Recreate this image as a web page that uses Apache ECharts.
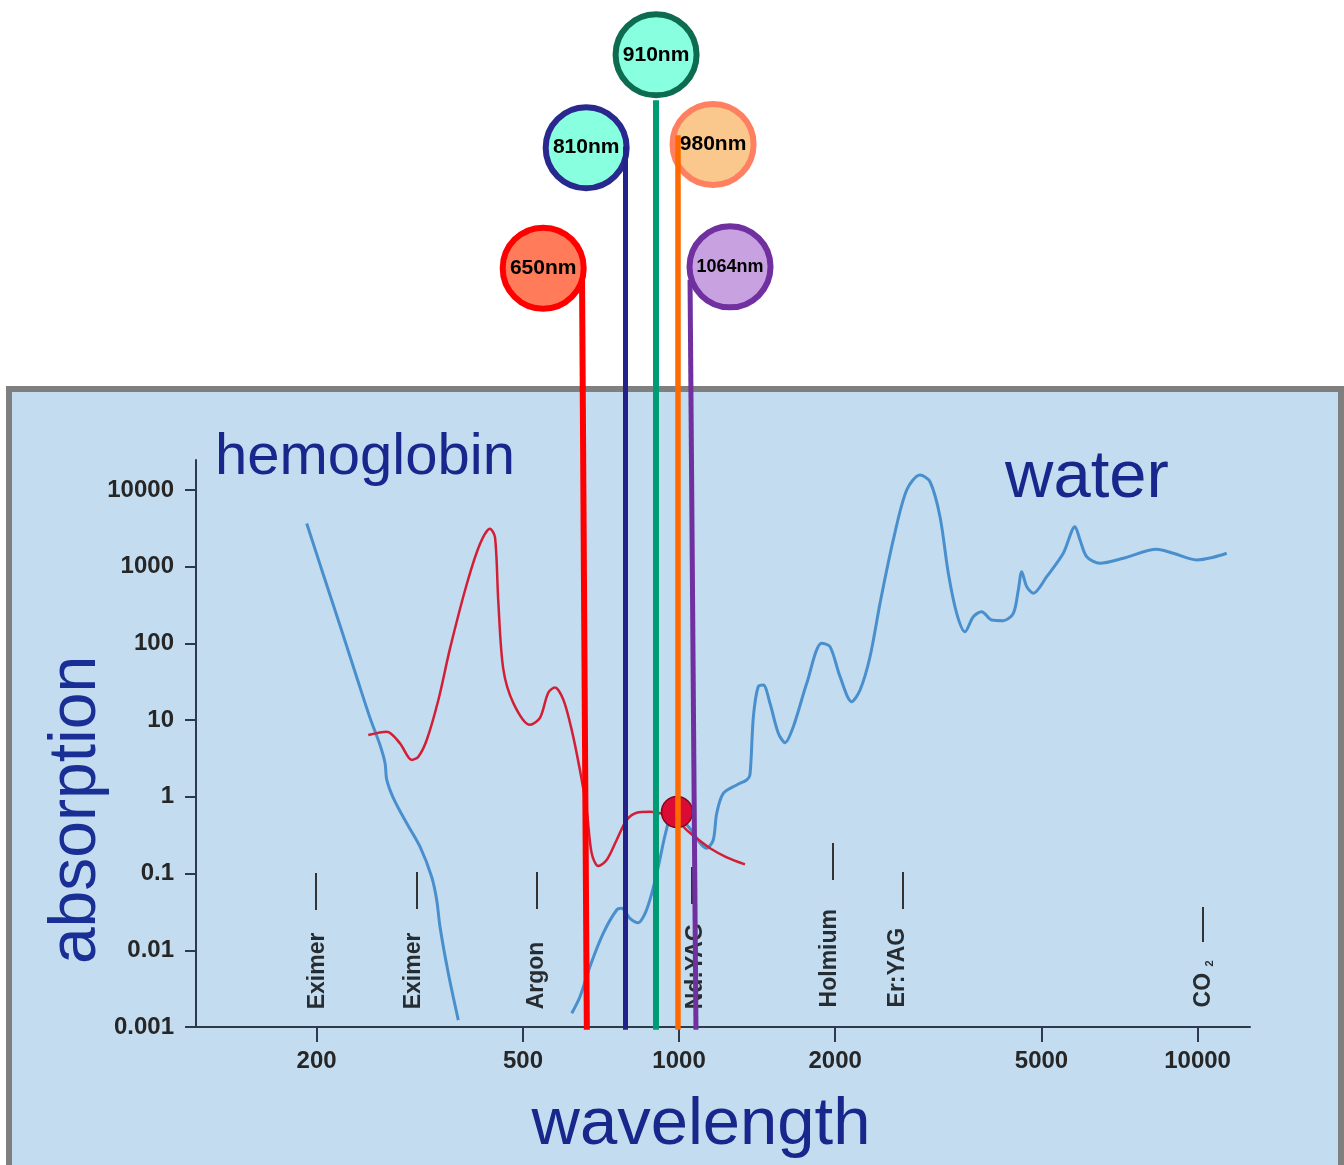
<!DOCTYPE html>
<html>
<head>
<meta charset="utf-8">
<script src="https://cdn.jsdelivr.net/npm/echarts@6/dist/echarts.min.js"></script>
<style>
html,body{margin:0;padding:0;background:#ffffff;}
#chart{width:1344px;height:1165px;}
</style>
</head>
<body>
<div id="chart"></div>
<script>
// ---- axis ticks ----
const xTickValues = [200, 500, 1000, 2000, 5000, 10000];
const yTickValues = [0.001, 0.01, 0.1, 1, 10, 100, 1000, 10000];
const yTickLabels = ['0.001', '0.01', '0.1', '1', '10', '100', '1000', '10000'];

// ---- water absorption (UV part) ----
const waterUvNm  = [191.4, 206, 221.9, 238.9, 253.5, 265, 271, 273.1, 281.2, 298.4, 316.5, 333.4, 340.9, 345.9, 358.9, 375.2];
const waterUvAbs = [3660, 792, 171, 36.5, 10.7, 4.74, 2.76, 1.66, 0.966, 0.452, 0.224, 0.0904, 0.0453, 0.0203, 0.00501, 0.00123];

// ---- water absorption (visible / IR part) ----
const waterIrNm  = [621, 644, 673, 714, 758, 775, 804, 834, 860, 886, 912, 932, 947, 969, 1040, 1131, 1164, 1182, 1217, 1292, 1350, 1370, 1391, 1421, 1454, 1497, 1554, 1601, 1661, 1763, 1884, 1955, 2044, 2152, 2234, 2335, 2441, 2589, 2748, 2915, 3048, 3186, 3306, 3431, 3560, 3694, 3834, 4009, 4220, 4412, 4511, 4580, 4682, 4822, 5117, 5508, 5801, 5933, 6112, 6482, 7192, 8341, 8979, 9961, 10722, 11381];
const waterIrAbs = [0.00151, 0.00248, 0.00611, 0.0166, 0.0335, 0.0352, 0.0261, 0.0229, 0.0303, 0.0553, 0.123, 0.248, 0.389, 0.635, 0.417, 0.214, 0.274, 0.611, 1.11, 1.43, 1.66, 1.93, 11.1, 27.3, 28.7, 16.7, 6.75, 5.08, 8.22, 30.2, 100.5, 90.8, 36.9, 17.4, 24.7, 67.1, 333, 2234, 10000, 15700, 12800, 4490, 822, 247, 142, 223, 259, 202, 198, 247, 498, 861, 550, 451, 741, 1496, 3327, 2234, 1352, 1109, 1288, 1687, 1496, 1225, 1327, 1496];

// ---- hemoglobin absorption ----
const hbNm  = [251.6, 273.1, 289.6, 305.1, 314.2, 326.1, 343.4, 361.6, 389.4, 413.1, 431.9, 441.6, 448.1, 458.1, 478.9, 515.8, 539.2, 559.4, 576.3, 598, 620.8, 644.1, 663.6, 678.4, 698.5, 725, 758, 792.5, 828.5, 878.9, 918.8, 982, 1026.6, 1081.5, 1147.5, 1235.6, 1340];
const hbAbs = [6.4, 7.08, 4.99, 3.03, 3.34, 5.51, 18.3, 85.5, 586, 1977, 3133, 2427, 353, 46.5, 16.8, 8.69, 10.7, 22.8, 26.6, 18.6, 7.47, 2.21, 0.675, 0.184, 0.1256, 0.15, 0.274, 0.499, 0.622, 0.641, 0.611, 0.564, 0.389, 0.288, 0.214, 0.163, 0.132];

// ---- crossing point marker ----
const dotNm  = [991];
const dotAbs = [0.635];

// ---- medical laser types (short marks + labels) ----
const laserNames       = ['Eximer', 'Eximer', 'Argon', 'Nd:YAG', 'Holmium', 'Er:YAG', 'CO2'];
const laserNm          = [199.4, 311.6, 532, 1059, 1981, 2704, 10245];
const laserLabelNm     = [201.2, 308.2, 532, 1078, 1955, 2644, 10290];
const laserMarkTopAbs  = [0.102, 0.105, 0.105, 0.122, 0.251, 0.105, 0.0367];
const laserMarkBotAbs  = [0.0335, 0.0345, 0.0345, 0.0401, 0.0824, 0.0345, 0.0128];
const laserLabelAbs    = [0.0017, 0.0017, 0.0017, 0.0017, 0.0018, 0.0018, 0.0018];

// ---- highlighted diode wavelengths ----
const diodeNames       = ['650nm', '810nm', '910nm', '980nm', '1064nm'];
const diodeTopNm       = [650, 789, 903, 995, 1050];
const diodeBottomNm    = [664, 789, 903, 995, 1078];
const diodeTopAbs      = [5.5e6, 3.0e8, 1.2e9, 4.2e8, 5.5e6];
const diodeBottomAbs   = [0.00092, 0.00092, 0.00092, 0.00092, 0.00092];
const diodeBubbleNm    = [547, 662, 903, 1163, 1254];
const diodeBubbleAbs   = [7.8e6, 2.9e8, 4.7e9, 3.2e8, 8.1e6];

// ---- styles ----
const diodeLineColors  = ['#ff0000', '#22228a', '#009b74', '#ff6a00', '#7030a0'];
const diodeLineWidths  = [6, 5, 6, 5.5, 5];
const diodeFill        = ['#ff7b5a', '#88ffdf', '#88ffdf', '#fac88c', '#c8a2e0'];
const diodeBorder      = ['#ff0000', '#28288e', '#0d6b50', '#ff8060', '#7030a0'];
const diodeFontSize    = [21, 21, 21, 21, 18];

const lg = Math.log10;
const FONT = '"Liberation Sans", Arial, Helvetica, sans-serif';
const NAVY = '#17278c';
const AXIS = '#2c3a4c';

const pairs = (xs, ys) => xs.map((x, i) => [lg(x), lg(ys[i])]);

const chart = echarts.init(document.getElementById('chart'), null, {renderer: 'canvas'});

const option = {
  animation: false,
  backgroundColor: '#ffffff',
  textStyle: {fontFamily: FONT},
  graphic: {
    elements: [
      {type: 'rect', z: -100, shape: {x: 9, y: 389, width: 1332, height: 800},
       style: {fill: '#c3dcef', stroke: '#7f7f7f', lineWidth: 6}},
      {type: 'text', x: 215, y: 458, z: 10,
       style: {text: 'hemoglobin', fontSize: 58, fontFamily: FONT, fill: NAVY, align: 'left', verticalAlign: 'middle'}},
      {type: 'text', x: 1005, y: 479, z: 10,
       style: {text: 'water', fontSize: 67, fontFamily: FONT, fill: NAVY, align: 'left', verticalAlign: 'middle'}},
      {type: 'text', x: 77, y: 810, rotation: Math.PI / 2, z: 10,
       style: {text: 'absorption', fontSize: 66, fontFamily: FONT, fill: '#1a2f96', align: 'center', verticalAlign: 'middle'}},
      {type: 'text', x: 701, y: 1126, z: 10,
       style: {text: 'wavelength', fontSize: 67, fontFamily: FONT, fill: NAVY, align: 'center', verticalAlign: 'middle'}}
    ]
  },
  grid: {left: 196, right: 94, top: 460, bottom: 138, containLabel: false},
  xAxis: {
    type: 'value',
    min: 2.0684, max: 4.1011,
    axisLine: {show: true, onZero: false, lineStyle: {color: AXIS, width: 2}},
    axisTick: {show: true, customValues: xTickValues.map(lg), length: 15, lineStyle: {color: AXIS, width: 2}},
    axisLabel: {show: true, customValues: xTickValues.map(lg), margin: 22, fontSize: 24, fontWeight: 'bold', color: '#262626',
                fontFamily: FONT, formatter: v => String(Math.round(Math.pow(10, v)))},
    splitLine: {show: false}
  },
  yAxis: {
    type: 'value',
    min: -3, max: 4.391,
    axisLine: {show: true, onZero: false, lineStyle: {color: AXIS, width: 2}},
    axisTick: {show: true, customValues: yTickValues.map(lg), length: 11, lineStyle: {color: AXIS, width: 2}},
    axisLabel: {show: true, customValues: yTickValues.map(lg), margin: 22, fontSize: 24, fontWeight: 'bold', color: '#262626',
                fontFamily: FONT,
                formatter: v => {
                  const i = yTickValues.findIndex(t => Math.abs(lg(t) - v) < 1e-6);
                  return i >= 0 ? yTickLabels[i] : '';
                }},
    splitLine: {show: false}
  },
  series: [
    {name: 'water', type: 'line', data: pairs(waterUvNm, waterUvAbs), showSymbol: false, smooth: 0.3,
     lineStyle: {color: '#4a8fcd', width: 3}, z: 2},
    {name: 'water', type: 'line', data: pairs(waterIrNm, waterIrAbs), showSymbol: false, smooth: 0.3,
     lineStyle: {color: '#4a8fcd', width: 3}, z: 2},
    {name: 'hemoglobin', type: 'line', data: pairs(hbNm, hbAbs), showSymbol: false, smooth: 0.3,
     lineStyle: {color: '#d21f35', width: 2.5}, z: 3},
    {name: 'crossing', type: 'scatter', data: pairs(dotNm, dotAbs), symbolSize: 31,
     itemStyle: {color: '#dc0b36', borderColor: '#7a0a1a', borderWidth: 1.5, opacity: 1}, z: 4},
    {name: 'laser marks', type: 'lines', coordinateSystem: 'cartesian2d', polyline: false, clip: false,
     data: laserNm.map((x, i) => ({coords: [[lg(x), lg(laserMarkTopAbs[i])], [lg(x), lg(laserMarkBotAbs[i])]]})),
     lineStyle: {color: '#333', width: 2, opacity: 1}, z: 3},
    {name: 'laser labels', type: 'scatter', clip: false, symbol: 'circle', symbolSize: 1,
     data: laserNames.map((n, i) => ({name: n, value: [lg(laserLabelNm[i]), lg(laserLabelAbs[i])]})),
     itemStyle: {color: 'rgba(0,0,0,0)'},
     label: {show: true, position: 'inside', rotate: 90, align: 'left', verticalAlign: 'middle',
             fontSize: 23, fontWeight: 'bold', color: '#000', textBorderWidth: 0, fontFamily: FONT,
             formatter: p => p.name === 'CO2' ? 'CO {s|2}' : p.name,
             rich: {s: {fontSize: 11, fontWeight: 'bold', color: '#000', fontFamily: FONT, verticalAlign: 'bottom'}}},
     emphasis: {disabled: true},
     z: 3},
    {name: 'diode bubbles', type: 'scatter', clip: false, symbolSize: 81,
     data: diodeNames.map((n, i) => ({
       name: n, value: [lg(diodeBubbleNm[i]), lg(diodeBubbleAbs[i])],
       itemStyle: {color: diodeFill[i], borderColor: diodeBorder[i], borderWidth: 6, opacity: 1},
       label: {fontSize: diodeFontSize[i]}
     })),
     label: {show: true, position: 'inside', formatter: '{b}', color: '#000', fontWeight: 'bold', fontFamily: FONT},
     z: 5},
    {name: 'diode lines', type: 'lines', coordinateSystem: 'cartesian2d', polyline: false, clip: false,
     data: diodeNames.map((n, i) => ({
       name: n,
       coords: [[lg(diodeTopNm[i]), lg(diodeTopAbs[i])], [lg(diodeBottomNm[i]), lg(diodeBottomAbs[i])]],
       lineStyle: {color: diodeLineColors[i], width: diodeLineWidths[i], opacity: 1}
     })),
     z: 6}
  ]
};
chart.setOption(option);
</script>
</body>
</html>
